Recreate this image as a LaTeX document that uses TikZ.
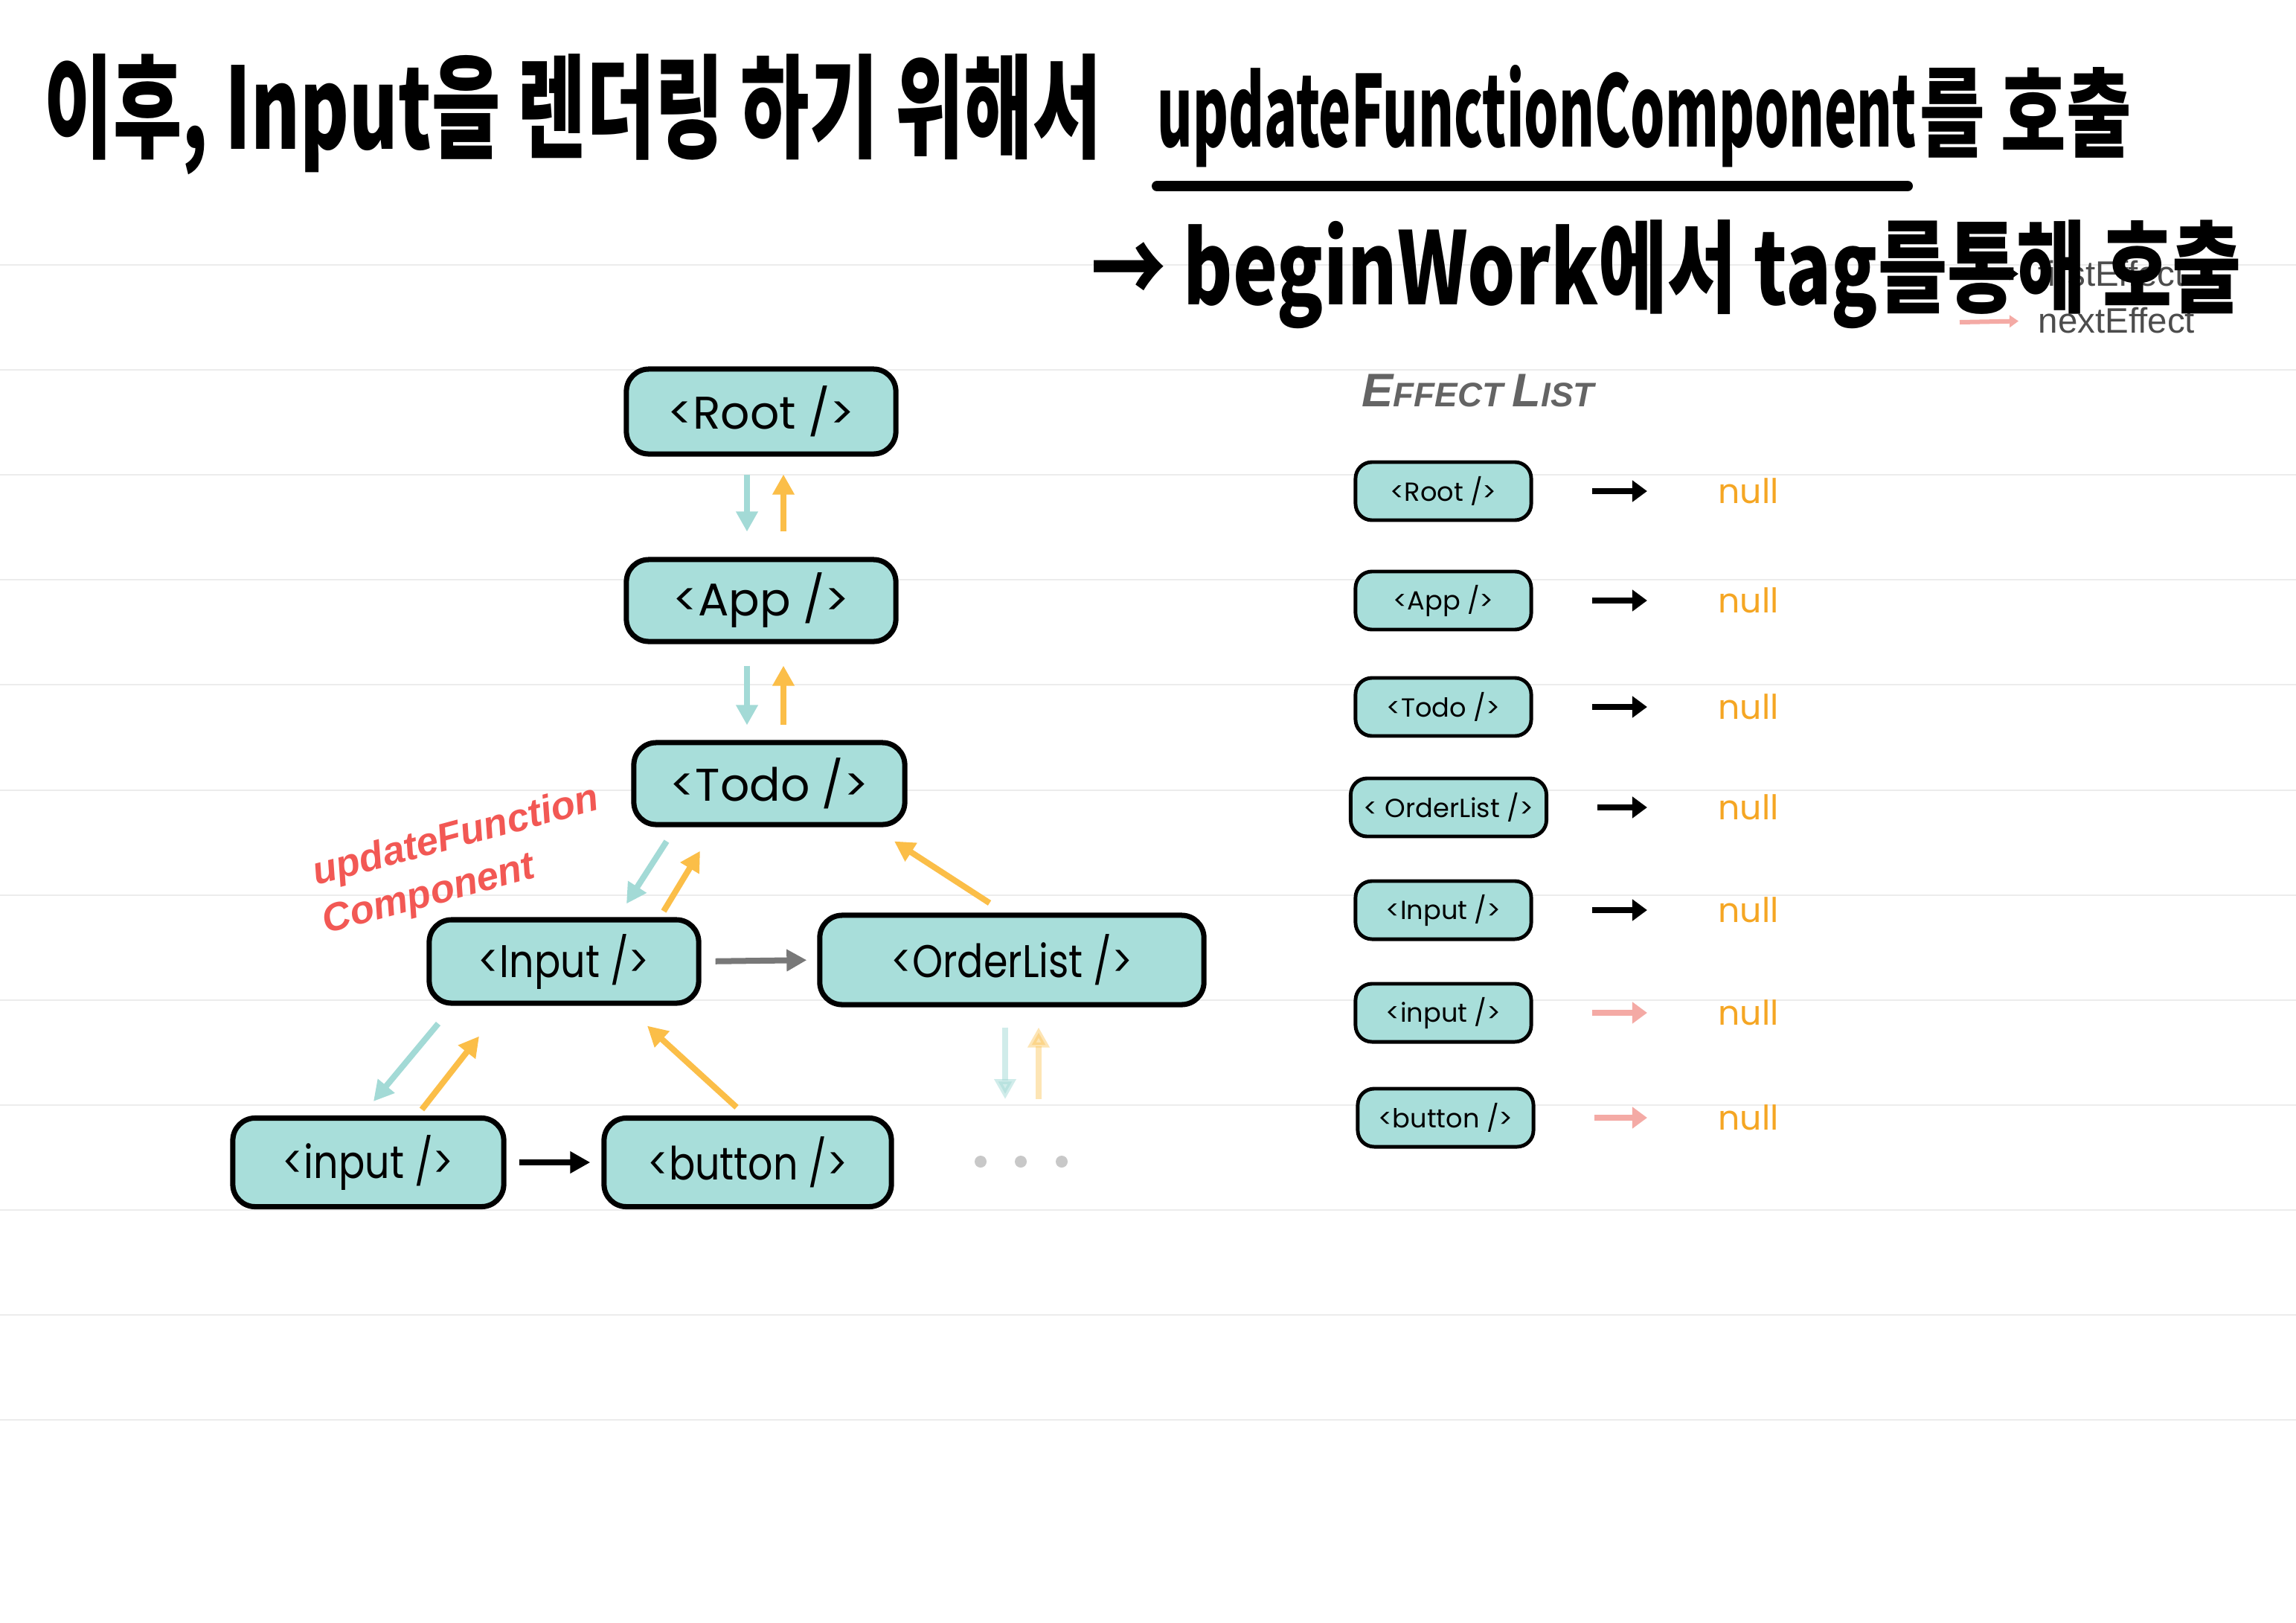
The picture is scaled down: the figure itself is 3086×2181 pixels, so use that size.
\documentclass[tikz,border=0pt]{standalone}
\usepackage{fontspec}
\usetikzlibrary{arrows.meta}
\newfontfamily\hand{Noto Sans CJK KR}
\newfontfamily\pop{Poppins}
\newfontfamily\arial{Liberation Sans}
\definecolor{nodeteal}{RGB}{168,222,218}
\definecolor{arrteal}{RGB}{163,218,214}
\definecolor{arrorange}{RGB}{251,190,72}
\definecolor{nullorange}{RGB}{245,166,35}
\definecolor{labred}{RGB}{242,88,84}
\definecolor{linegray}{RGB}{236,236,236}
\definecolor{arrpink}{RGB}{244,170,165}
\definecolor{titlegray}{RGB}{100,100,100}
\definecolor{sibgray}{RGB}{120,120,120}
\definecolor{dotgray}{RGB}{200,200,200}
\tikzset{
  tnode/.style={draw=black,line width=2pt,fill=nodeteal,rounded corners=0.3cm,inner sep=0pt,font=\pop\fontsize{17.5}{20}\selectfont},
  enode/.style={draw=black,line width=1.4pt,fill=nodeteal,rounded corners=0.22cm,minimum height=0.78cm,inner sep=0pt,font=\pop\fontsize{10}{12}\selectfont},
  nulltxt/.style={text=nullorange,inner sep=0pt,font=\pop\fontsize{13}{15}\selectfont},
  tarrow/.style={line width=0.08cm,-{Triangle[length=0.27cm,width=0.28cm]}},
  earrow/.style={line width=0.08cm,-{Triangle[length=0.2cm,width=0.28cm]}},
  handtxt/.style={anchor=base west,inner sep=0pt},
  fxtxt/.style={anchor=west,inner sep=0pt,text=black!70,font=\arial\fontsize{13.5}{15}\selectfont},
  redtxt/.style={rotate=15,anchor=base west,inner sep=0pt,text=labred,font=\arial\bfseries\itshape\fontsize{15}{18}\selectfont}
}
\begin{document}
\begin{tikzpicture}[x=0.01cm,y=-0.01cm]
\useasboundingbox (0,0) rectangle (3086,2181);
\fill[white] (0,0) rectangle (3086,2181);
% ruled paper
\foreach \k in {0,...,11} {\draw[linegray,line width=0.02cm] (0,356+141.1*\k) -- (3086,356+141.1*\k);}
% leftover slide labels
\node[fxtxt] (fe) at (2739,368) {firstEffect};
\node[fxtxt] (ne) at (2739,431) {nextEffect};
\coordinate (feTail) at (2638,368);
\coordinate (neTail) at (2634,433);
\draw[line width=0.05cm,-{Triangle[length=0.12cm,width=0.16cm]},shorten >=0.26cm] (feTail) -- (fe.west);
\draw[arrpink,line width=0.06cm,-{Triangle[length=0.12cm,width=0.16cm]},shorten >=0.26cm] (neTail) -- (ne.west);
% fiber tree
\node[tnode,minimum width=3.62cm,minimum height=1.14cm] (root) at (1023,553) {<Root />};
\node[tnode,minimum width=3.62cm,minimum height=1.1cm] (app) at (1023,807) {<App />};
\node[tnode,minimum width=3.64cm,minimum height=1.1cm] (todo) at (1034,1053) {<Todo />};
\node[tnode,minimum width=3.62cm,minimum height=1.12cm] (input) at (758,1292) {\scalebox{0.85}[1]{<Input />}};
\node[tnode,minimum width=5.16cm,minimum height=1.2cm] (order) at (1360,1290) {\scalebox{0.85}[1]{<OrderList />}};
\node[tnode,minimum width=3.64cm,minimum height=1.19cm] (inp) at (495,1562) {\scalebox{0.85}[1]{<input />}};
\node[tnode,minimum width=3.86cm,minimum height=1.19cm] (button) at (1005,1562) {\scalebox{0.85}[1]{<button />}};
\node[inner sep=0pt,minimum size=0pt] (more) at (1372,1561) {};
\foreach \dx in {-54,0,55} {\fill[dotgray] ([shift={(\dx,0)}]more.center) circle[radius=0.08cm];}
\node[redtxt] (ufc1) at (425,1190) {updateFunction};
\node[redtxt] (ufc2) at (438,1255) {Component};
% root - app - todo
\draw[tarrow,arrteal] ([shift={(-19,24)}]root.south) -- ([shift={(-19,-34)}]app.north);
\draw[tarrow,arrorange] ([shift={(30,-34)}]app.north) -- ([shift={(30,24)}]root.south);
\draw[tarrow,arrteal] ([shift={(-19,29)}]app.south) -- ([shift={(-30,-20)}]todo.north);
\draw[tarrow,arrorange] ([shift={(19,-20)}]todo.north) -- ([shift={(30,29)}]app.south);
% todo children
\draw[tarrow,arrteal] ([shift={(-138,19)}]todo.south) -- ([shift={(84,-18)}]input.north);
\draw[tarrow,arrorange] ([shift={(134,-8)}]input.north) -- ([shift={(-93,32)}]todo.south);
\draw[tarrow,arrorange] ([shift={(-30,-13)}]order.north) -- ([shift={(168,19)}]todo.south);
\draw[tarrow,sibgray,shorten <=0.19cm,shorten >=0.14cm] (input.east) -- (order.west);
% input children
\draw[tarrow,arrteal] ([shift={(-169,24)}]input.south) -- ([shift={(7,-19)}]inp.north);
\draw[tarrow,arrorange] ([shift={(72,-8)}]inp.north) -- ([shift={(-114,41)}]input.south);
\draw[tarrow,arrorange] ([shift={(-15,-11)}]button.north) -- ([shift={(112,27)}]input.south);
\draw[tarrow,black,shorten <=0.17cm,shorten >=0.15cm] (inp.east) -- (button.west);
\draw[tarrow,arrteal,opacity=0.5] ([shift={(-9,27)}]order.south) -- ([shift={(-21,-84)}]more.center);
\draw[tarrow,arrorange,opacity=0.4] ([shift={(24,-84)}]more.center) -- ([shift={(36,27)}]order.south);
% effect list
\node[anchor=west,inner sep=0pt,text=titlegray,font=\arial\bfseries\itshape] (eltitle) at (1830,525)
  {\fontsize{18}{20}\selectfont E\fontsize{13}{15}\selectfont FFECT \fontsize{18}{20}\selectfont L\fontsize{13}{15}\selectfont IST};
\foreach \nm/\lab/\xx/\yy/\ww/\col in {Root/{<Root />}/1940/660/2.36/black,
  App/{<App />}/1940/807/2.36/black, Todo/{<Todo />}/1940/950/2.36/black,
  Order/{< OrderList />}/1947/1085/2.63/black, Input/{<Input />}/1940/1223/2.36/black,
  inp/{<input />}/1940/1361/2.36/arrpink, button/{<button />}/1943/1502/2.36/arrpink} {
  \node[enode,minimum width=\ww cm] (e\nm) at (\xx,\yy) {\lab};
  \node[nulltxt] (n\nm) at (2350,\yy) {null};
  \draw[earrow,\col] ([xshift=2.0cm]e\nm.center) -- ([xshift=-1.36cm]n\nm.center);
}
% handwriting on top
\node[handtxt] (t1) at (59,200) {\resizebox{14.2cm}{1.28cm}{\hand\bfseries 이후, Input을 렌더링 하기 위해서}};
\node[handtxt] (t2) at (1555,197) {\resizebox{10.2cm}{1.1cm}{\hand\bfseries updateFunctionComponent}};
\node[handtxt] (t3) at (2580,200) {\resizebox{2.84cm}{1.1cm}{\hand\bfseries 를 호출}};
\draw[line width=0.14cm,line cap=round] ([yshift=-0.53cm]t2.base west) -- ([shift={(-0.13cm,-0.53cm)}]t2.base east);
\node[handtxt] (t4) at (1466,409) {\resizebox{15.45cm}{1.14cm}{\hand\bfseries → beginWork에서 tag를통해 호출}};
\end{tikzpicture}
\end{document}
